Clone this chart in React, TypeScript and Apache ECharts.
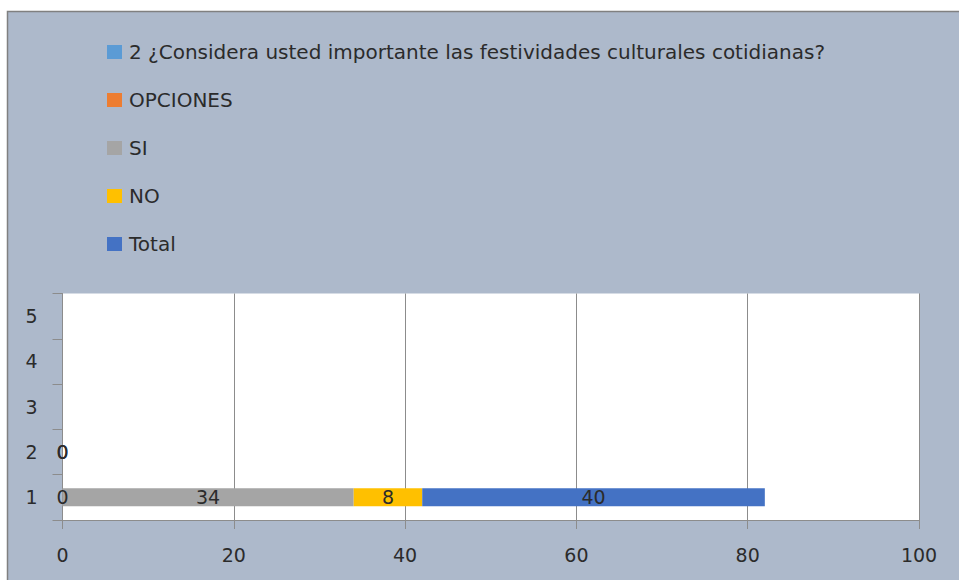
import React, { useEffect, useRef } from "react";
import * as echarts from "echarts";

const categories = ["1", "2", "3", "4", "5"];
const seriesNames = [
  "2 ¿Considera usted importante las festividades culturales cotidianas?",
  "OPCIONES",
  "SI",
  "NO",
  "Total",
];
const questionValues: (number | null)[] = [null, 0, null, null, null];
const opcionesValues: (number | null)[] = [0, 0, null, null, null];
const siValues: (number | null)[] = [34, null, null, null, null];
const noValues: (number | null)[] = [8, null, null, null, null];
const totalValues: (number | null)[] = [40, null, null, null, null];
const xTicks = { min: 0, max: 100, interval: 20 };
const colors = ["#5B9BD5", "#ED7D31", "#A5A5A5", "#FFC000", "#4472C4"];

const FONT = "DejaVu Sans";
const TEXT = "#2b2b2b";

export default function App() {
  const ref = useRef<HTMLDivElement>(null);
  useEffect(() => {
    if (!ref.current) return;
    const chart = echarts.init(ref.current, undefined, { renderer: "svg" });
    const allValues = [questionValues, opcionesValues, siValues, noValues, totalValues];
    chart.setOption({
      animation: false,
      backgroundColor: "#ffffff",
      color: colors,
      textStyle: { fontFamily: FONT },
      graphic: [
        {
          type: "rect",
          z: -10,
          silent: true,
          shape: { x: 7.5, y: 11.5, width: 960, height: 580 },
          style: { fill: "#ADB9CB", stroke: "#808080", lineWidth: 1.5 },
        },
      ],
      legend: {
        orient: "vertical",
        left: 102,
        top: 37,
        itemWidth: 15,
        itemHeight: 14,
        itemGap: 28,
        icon: "rect",
        textStyle: { fontFamily: FONT, fontSize: 20, color: TEXT, lineHeight: 20, padding: [0, 0, 0, 2] },
        data: seriesNames,
      },
      grid: {
        left: 62.5,
        right: 40,
        top: 293.5,
        bottom: 60,
        show: true,
        backgroundColor: "#ffffff",
        borderWidth: 0,
        containLabel: false,
      },
      xAxis: {
        type: "value",
        min: xTicks.min,
        max: xTicks.max,
        interval: xTicks.interval,
        axisLine: { show: true, lineStyle: { color: "#8C8C8C", width: 1 } },
        axisTick: { show: true, length: 9, lineStyle: { color: "#8C8C8C" } },
        splitLine: { show: true, lineStyle: { color: "#8C8C8C", width: 1 } },
        axisLabel: { fontFamily: FONT, fontSize: 19, color: TEXT, margin: 25 },
      },
      yAxis: {
        type: "category",
        data: categories,
        axisLine: { show: true, lineStyle: { color: "#8C8C8C", width: 1 } },
        axisTick: { show: true, length: 10, lineStyle: { color: "#8C8C8C" } },
        splitLine: { show: false },
        axisLabel: { fontFamily: FONT, fontSize: 19, color: TEXT, margin: 25 },
      },
      series: seriesNames.map((name, i) => ({
        name,
        type: "bar",
        stack: "total",
        barWidth: 18,
        data: allValues[i],
        itemStyle: { color: colors[i] },
        label: {
          show: true,
          position: "inside",
          fontFamily: FONT,
          fontSize: 19,
          color: TEXT,
          formatter: (p: any) => (p.value === null || p.value === undefined ? "" : String(p.value)),
        },
      })),
    });
    return () => chart.dispose();
  }, []);
  return (
    <div
      ref={ref}
      style={{ position: "absolute", left: 0, top: 0, width: 959, height: 580 }}
    />
  );
}
